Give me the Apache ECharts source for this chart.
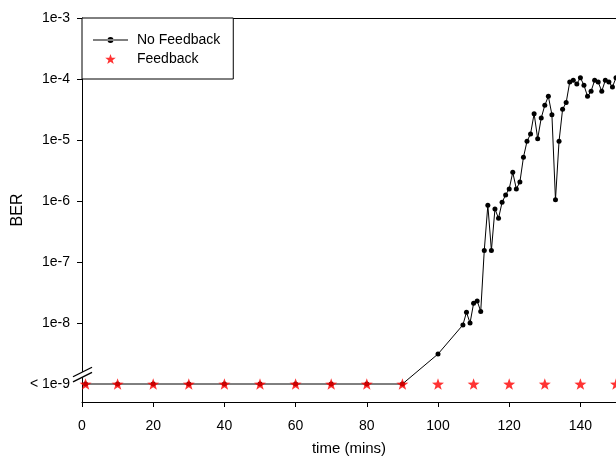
<!DOCTYPE html>
<html>
<head>
<meta charset="utf-8">
<script src="https://cdn.jsdelivr.net/npm/echarts@6/dist/echarts.min.js"></script>
<style>
  html, body { margin: 0; padding: 0; background: #fff; }
  #chart { width: 616px; height: 457px; }
</style>
</head>
<body>
<div id="chart"></div>
<script>
// Time in minutes for each measurement
const timeNoFeedback = [1, 10, 20, 30, 40, 50, 60, 70, 80, 90, 100,
  107, 108, 109, 110, 111, 112, 113, 114, 115, 116, 117, 118, 119, 120,
  121, 122, 123, 124, 125, 126, 127, 128, 129, 130, 131, 132, 133, 134, 135,
  136, 137, 138, 139, 140, 141, 142, 143, 144, 145, 146, 147, 148, 149, 150];
// Bit error rate without feedback (1e-9 stands for "below 1e-9")
const berNoFeedback = [1e-9, 1e-9, 1e-9, 1e-9, 1e-9, 1e-9, 1e-9, 1e-9, 1e-9, 1e-9, 3.1e-9,
  9.3e-9, 1.5e-8, 1.0e-8, 2.1e-8, 2.3e-8, 1.55e-8, 1.55e-7, 8.5e-7, 1.55e-7, 7.4e-7, 5.2e-7, 9.5e-7, 1.26e-6, 1.58e-6,
  2.95e-6, 1.58e-6, 2.04e-6, 5.2e-6, 9.5e-6, 1.26e-5, 2.7e-5, 1.05e-5, 2.3e-5, 3.7e-5, 5.2e-5, 2.6e-5, 1.05e-6, 9.5e-6, 3.2e-5,
  4.1e-5, 8.9e-5, 9.5e-5, 8.3e-5, 1.05e-4, 7.9e-5, 5.2e-5, 6.3e-5, 9.5e-5, 8.9e-5, 6.3e-5, 9.5e-5, 8.9e-5, 7.4e-5, 1.05e-4];

// With feedback the error rate stays below 1e-9 throughout
const timeFeedback = [1, 10, 20, 30, 40, 50, 60, 70, 80, 90, 100, 110, 120, 130, 140, 150];
const berFeedback = timeFeedback.map(() => 1e-9);

// Axis tick labels (log10 exponent -> text)
const yTickExponents = [-9, -8, -7, -6, -5, -4, -3];
const yTickLabels = ['< 1e-9', '1e-8', '1e-7', '1e-6', '1e-5', '1e-4', '1e-3'];

const FONT = 'Liberation Sans, Arial, sans-serif';
const STAR = 'path://M0,-10 L2.35,-3.24 L9.51,-3.09 L3.8,1.24 L5.88,8.09 L0,4 L-5.88,8.09 L-3.8,1.24 L-9.51,-3.09 L-2.35,-3.24 Z';
// Legend icon for the line series: a 35px stroke with a small dot in the middle
const LINE_DOT = 'path://M0,4 L35,4 L35,5.1 L0,5.1 Z M14.5,4.55 A3,3 0 1,0 20.5,4.55 A3,3 0 1,0 14.5,4.55 Z';

const toPairs = (xs, ys) => xs.map((x, i) => [x, Math.log10(ys[i])]);

const chart = echarts.init(document.getElementById('chart'), null, { renderer: 'canvas' });

const Y_MIN = -3 - 384 / 61;

chart.setOption({
  animation: false,
  backgroundColor: '#fff',
  grid: { left: 82, top: 18, right: 0, height: 384, containLabel: false, outerBoundsMode: 'none' },
  xAxis: [{
    type: 'value', min: 0, max: 150, interval: 20,
    name: 'time (mins)', nameLocation: 'middle', nameGap: 39, nameMoveOverlap: false,
    nameTextStyle: { fontFamily: FONT, fontSize: 15, color: '#000' },
    axisLine: { show: true, lineStyle: { color: '#000', width: 1 } },
    axisTick: { show: true, inside: false, length: 5, lineStyle: { color: '#000' } },
    axisLabel: { margin: 17, fontFamily: FONT, fontSize: 14, color: '#000', showMaxLabel: false },
    splitLine: { show: false }
  }, {
    type: 'value', min: 0, max: 150, position: 'top',
    axisLine: { show: true, lineStyle: { color: '#000', width: 1 } },
    axisTick: { show: false }, axisLabel: { show: false }, splitLine: { show: false }
  }],
  yAxis: {
    type: 'value', min: Y_MIN, max: -3,
    name: 'BER', nameLocation: 'middle', nameGap: 56, nameRotate: 90, nameMoveOverlap: false,
    nameTextStyle: { fontFamily: FONT, fontSize: 16, color: '#000' },
    axisLine: { show: true, lineStyle: { color: '#000', width: 1 } },
    axisTick: { show: true, inside: false, length: 5, customValues: [-8, -7, -6, -5, -4, -3], lineStyle: { color: '#000' } },
    axisLabel: {
      margin: 12, fontFamily: FONT, fontSize: 14, color: '#000',
      customValues: yTickExponents,
      formatter: v => yTickLabels[yTickExponents.indexOf(Math.round(v))]
    },
    splitLine: { show: false }
  },
  legend: {
    orient: 'vertical', left: 82, top: 18,
    padding: [15, 13, 13, 11], itemGap: 5, itemWidth: 35, itemHeight: 10,
    symbolKeepAspect: true,
    borderColor: '#000', borderWidth: 1, backgroundColor: '#fff',
    textStyle: { fontFamily: FONT, fontSize: 14, color: '#000', padding: [0, 0, 0, 4] },
    data: [
      { name: 'No Feedback', icon: LINE_DOT, itemStyle: { color: '#000' } },
      { name: 'Feedback', icon: STAR, itemStyle: { color: '#ff0000' } }
    ]
  },
  series: [{
    name: 'No Feedback', type: 'line',
    data: toPairs(timeNoFeedback, berNoFeedback),
    symbol: 'circle', symbolSize: 5, showSymbol: true,
    lineStyle: { color: '#000', width: 1 },
    itemStyle: { color: '#000' },
    clip: false, z: 2
  }, {
    name: 'Feedback', type: 'scatter',
    data: toPairs(timeFeedback, berFeedback),
    symbol: STAR, symbolSize: 12, symbolKeepAspect: true,
    itemStyle: { color: '#ff0000' },
    clip: false, z: 3
  }]
});

// Axis break marks between the "< 1e-9" level and 1e-8
function drawBreak() {
  const x0 = chart.convertToPixel({ xAxisIndex: 0 }, 0);
  const yc = chart.convertToPixel({ yAxisIndex: 0 }, -8.85);
  const dx = 10, dy = 5, sep = 2.6;
  chart.setOption({
    graphic: [{
      type: 'polygon', z: 100,
      shape: { points: [[x0 - dx, yc - sep + dy], [x0 + dx, yc - sep - dy], [x0 + dx, yc + sep - dy], [x0 - dx, yc + sep + dy]] },
      style: { fill: '#fff' }
    }, {
      type: 'line', z: 101,
      shape: { x1: x0 - dx + 1, y1: yc - sep + dy - 0.5, x2: x0 + dx, y2: yc - sep - dy },
      style: { stroke: '#000', lineWidth: 1.3 }
    }, {
      type: 'line', z: 101,
      shape: { x1: x0 - dx + 1, y1: yc + sep + dy - 0.5, x2: x0 + dx, y2: yc + sep - dy },
      style: { stroke: '#000', lineWidth: 1.3 }
    }]
  });
}
drawBreak();
</script>
</body>
</html>
